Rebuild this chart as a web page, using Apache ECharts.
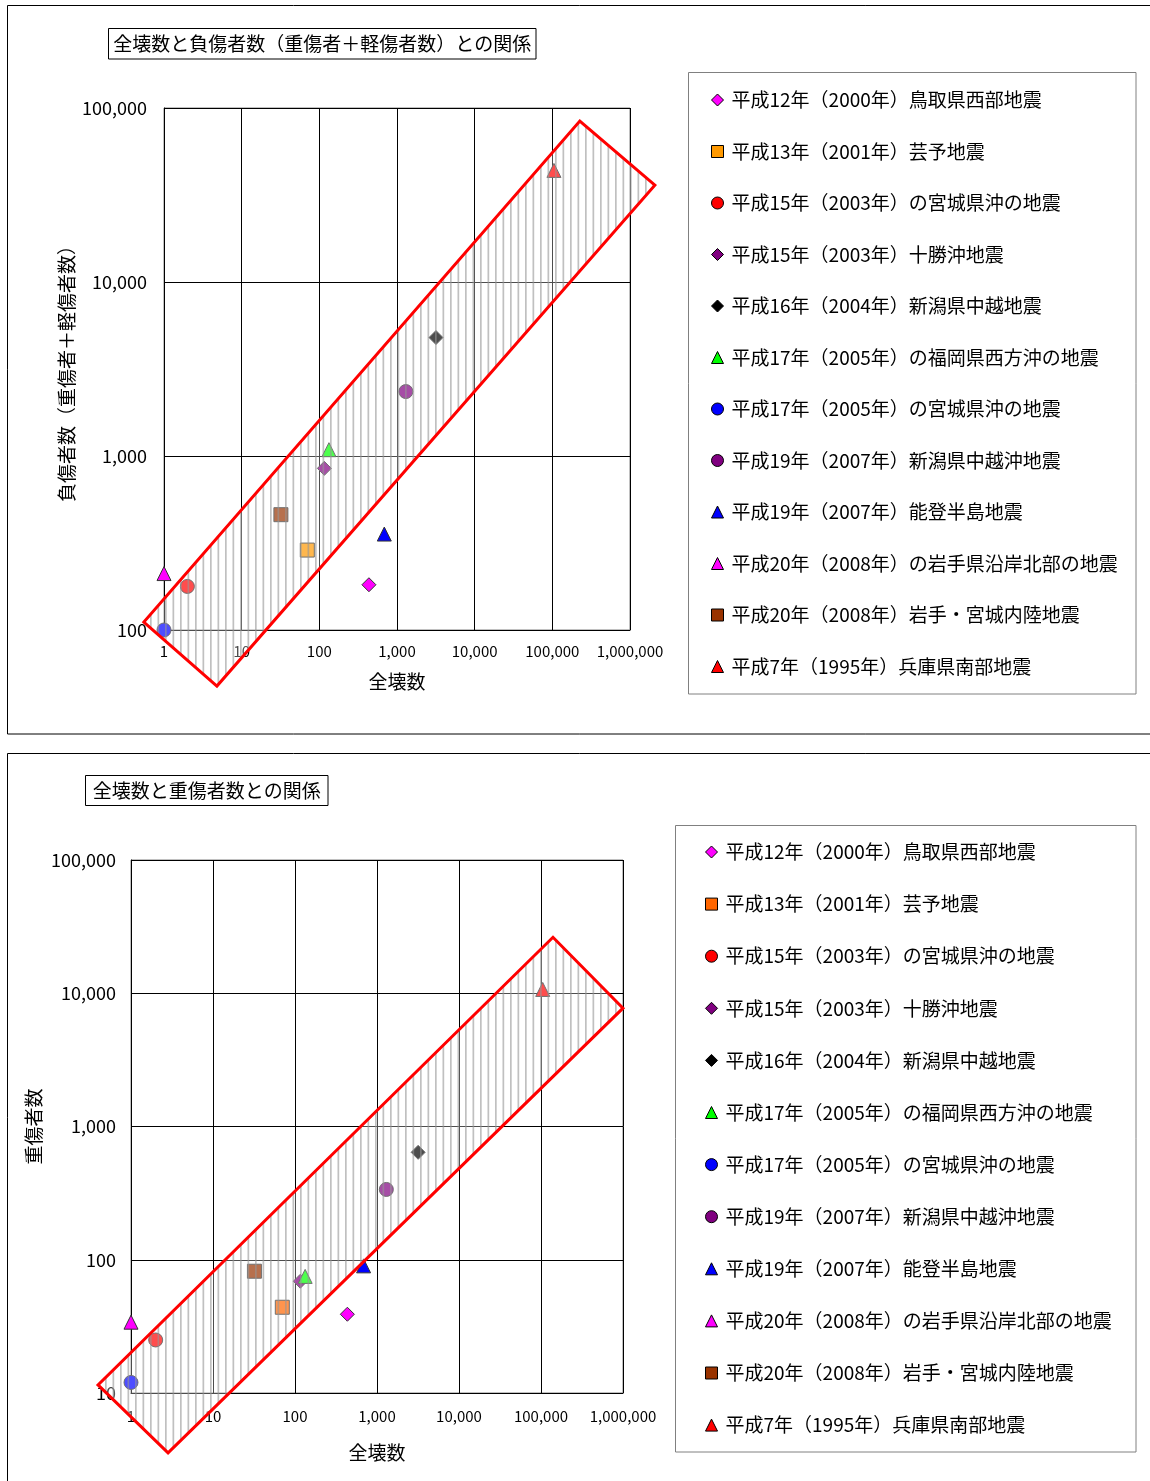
<!DOCTYPE html>
<html><head><meta charset="utf-8">
<script src="https://cdn.jsdelivr.net/npm/echarts@6/dist/echarts.min.js"></script>
<style>
html,body{margin:0;padding:0;background:#fff;}
#c1{position:absolute;left:0;top:0;width:1150px;height:745px;}
#c2{position:absolute;left:0;top:745px;width:1150px;height:736px;}
</style>
</head><body><div id="c1"></div><div id="c2"></div>
<script>
// ---------- data ----------
const quakeNames = [
  '平成12年（2000年）鳥取県西部地震',
  '平成13年（2001年）芸予地震',
  '平成15年（2003年）の宮城県沖の地震',
  '平成15年（2003年）十勝沖地震',
  '平成16年（2004年）新潟県中越地震',
  '平成17年（2005年）の福岡県西方沖の地震',
  '平成17年（2005年）の宮城県沖の地震',
  '平成19年（2007年）新潟県中越沖地震',
  '平成19年（2007年）能登半島地震',
  '平成20年（2008年）の岩手県沿岸北部の地震',
  '平成20年（2008年）岩手・宮城内陸地震',
  '平成7年（1995年）兵庫県南部地震'
];
const quakeSymbols = ['diamond','rect','circle','diamond','diamond','triangle','circle','circle','triangle','triangle','rect','triangle'];
const colorsChart1 = ['#FF00FF','#FF9900','#FF0000','#800080','#000000','#00FF00','#0000FF','#800080','#0000FF','#FF00FF','#993300','#FF0000'];
const colorsChart2 = ['#FF00FF','#FF6600','#FF0000','#800080','#000000','#00FF00','#0000FF','#800080','#0000FF','#FF00FF','#993300','#FF0000'];
// 全壊数
const zenkai   = [435, 70, 2, 116, 3175, 133, 1, 1300, 686, 1, 32, 104906];
// 負傷者数（重傷者＋軽傷者数）
const fushosha = [182, 288, 178, 849, 4795, 1087, 100, 2346, 356, 211, 460, 43792];
// 重傷者数
const jushosha = [39, 44, 25, 69, 640, 75, 12, 337, 90, 34, 82, 10683];
// axis ranges (tick labels are powers of ten)
const xRange = [1, 1000000];
const yRange1 = [100, 100000];
const yRange2 = [10, 100000];
// band outline corners, in data units
const band1 = [[0.55, 111], [4.8, 47.6], [2090000, 36000], [226000, 84100]];
const band2 = [[0.396, 11.5], [2.83, 3.55], [1000000, 7730], [140000, 26300]];

const FONT = '"Noto Sans CJK JP", "Noto Sans", sans-serif';

function hatchCanvas(){
  const c = document.createElement('canvas');
  c.width = 15; c.height = 10;
  const g = c.getContext('2d');
  g.fillStyle = 'rgba(255,255,255,0.3)';
  g.fillRect(0,0,15,10);
  g.fillStyle = 'rgba(150,150,150,0.6)';
  g.fillRect(0,0,1.7,10);
  g.fillRect(7.5,0,1.7,10);
  return c;
}
const pat = hatchCanvas();

function fmt(v){ return Math.round(v).toLocaleString('en-US'); }

function build(el, cfg){
  const chart = echarts.init(document.getElementById(el), null, {renderer:'canvas'});
  const series = quakeNames.map((n,i)=>({
    type:'scatter', name:n, symbol:quakeSymbols[i], symbolSize:14, z:2,
    data:[[zenkai[i], cfg.y[i]]],
    itemStyle:{color:cfg.colors[i], borderColor:'#333', borderWidth:1, opacity:1},
    emphasis:{disabled:true}
  }));
  series.push({
    type:'custom', coordinateSystem:'cartesian2d', clip:false, z:5, silent:true,
    data:[[1, cfg.yRange[0]]],
    renderItem:(params, api)=>{
      const pts = cfg.band.map(p=>api.coord(p));
      return {type:'polygon', shape:{points:pts},
        style:{fill:{image:pat, repeat:'repeat'}, stroke:'#FF0000', lineWidth:3}};
    }
  });
  chart.setOption({
    animation:false,
    backgroundColor:'#fff',
    grid:{left:cfg.grid[0], top:cfg.grid[1], width:cfg.grid[2], height:cfg.grid[3],
      show:true, borderColor:'#808080', borderWidth:1, backgroundColor:'transparent'},
    xAxis:{type:'log', logBase:10, min:xRange[0], max:xRange[1],
      axisLine:{show:true, onZero:false, lineStyle:{color:'#000', width:1}},
      axisTick:{show:false},
      splitLine:{show:true, lineStyle:{color:'#000', width:1}},
      axisLabel:{fontSize:15, color:'#000', margin:cfg.xMargin, fontFamily:FONT, formatter:fmt},
      name:'全壊数', nameLocation:'middle', nameGap:cfg.xNameGap,
      nameTextStyle:{fontSize:19, color:'#000', fontFamily:FONT}},
    yAxis:{type:'log', logBase:10, min:cfg.yRange[0], max:cfg.yRange[1],
      axisLine:{show:true, onZero:false, lineStyle:{color:'#000', width:1}},
      axisTick:{show:false},
      splitLine:{show:true, lineStyle:{color:'#000', width:1}},
      axisLabel:{fontSize:18, color:'#000', margin:cfg.yMargin, fontFamily:FONT, formatter:fmt},
      name:cfg.yName, nameLocation:'middle', nameGap:cfg.yNameGap,
      nameTextStyle:{fontSize:19, color:'#000', fontFamily:FONT}},
    legend:{orient:'vertical', left:cfg.legend[0], top:cfg.legend[1], itemGap:cfg.legend[2],
      padding:0, itemWidth:12, itemHeight:12, selectedMode:false,
      itemStyle:{borderColor:'#000', borderWidth:1},
      textStyle:{fontSize:19, color:'#000', fontFamily:FONT, lineHeight:20, padding:[0,0,0,3]},
      data:quakeNames},
    graphic:[
      {type:'rect', z:-10, silent:true, shape:cfg.frame, style:{fill:'none', stroke:'#000', lineWidth:1}},
      {type:'rect', z:10, silent:true, shape:cfg.titleBox, style:{fill:'#fff', stroke:'#000', lineWidth:1}},
      {type:'text', z:11, silent:true, x:cfg.titleBox.x + cfg.titleBox.width/2, y:cfg.titleBox.y + cfg.titleBox.height/2,
        style:{text:cfg.title, fontSize:19, fontFamily:FONT, fill:'#000', align:'center', verticalAlign:'middle'}},
      {type:'rect', z:-5, silent:true, shape:cfg.legendBox, style:{fill:'#fff', stroke:'#808080', lineWidth:1}}
    ],
    series:series
  });
}

build('c1', {
  y:fushosha, colors:colorsChart1, yRange:yRange1, band:band1,
  grid:[164,108,466,522], xMargin:14, xNameGap:42, yMargin:17, yNameGap:88,
  yName:'負傷者数（重傷者＋軽傷者数）',
  legend:[711, 90, 31.5],
  frame:{x:7.5, y:5.5, width:1150, height:728.5},
  titleBox:{x:108.5, y:28.5, width:427.5, height:30.5},
  title:'全壊数と負傷者数（重傷者＋軽傷者数）との関係',
  legendBox:{x:688.5, y:72.5, width:447.5, height:621.5}
});
build('c2', {
  y:jushosha, colors:colorsChart2, yRange:yRange2, band:band2,
  grid:[131,115,492,533], xMargin:16, xNameGap:50, yMargin:15, yNameGap:88,
  yName:'重傷者数',
  legend:[705, 97, 32.1],
  frame:{x:7.5, y:8.5, width:1150, height:800},
  titleBox:{x:85.5, y:30.5, width:242.5, height:30},
  title:'全壊数と重傷者数との関係',
  legendBox:{x:675.5, y:80.5, width:460.5, height:626.5}
});
</script>
</body></html>
